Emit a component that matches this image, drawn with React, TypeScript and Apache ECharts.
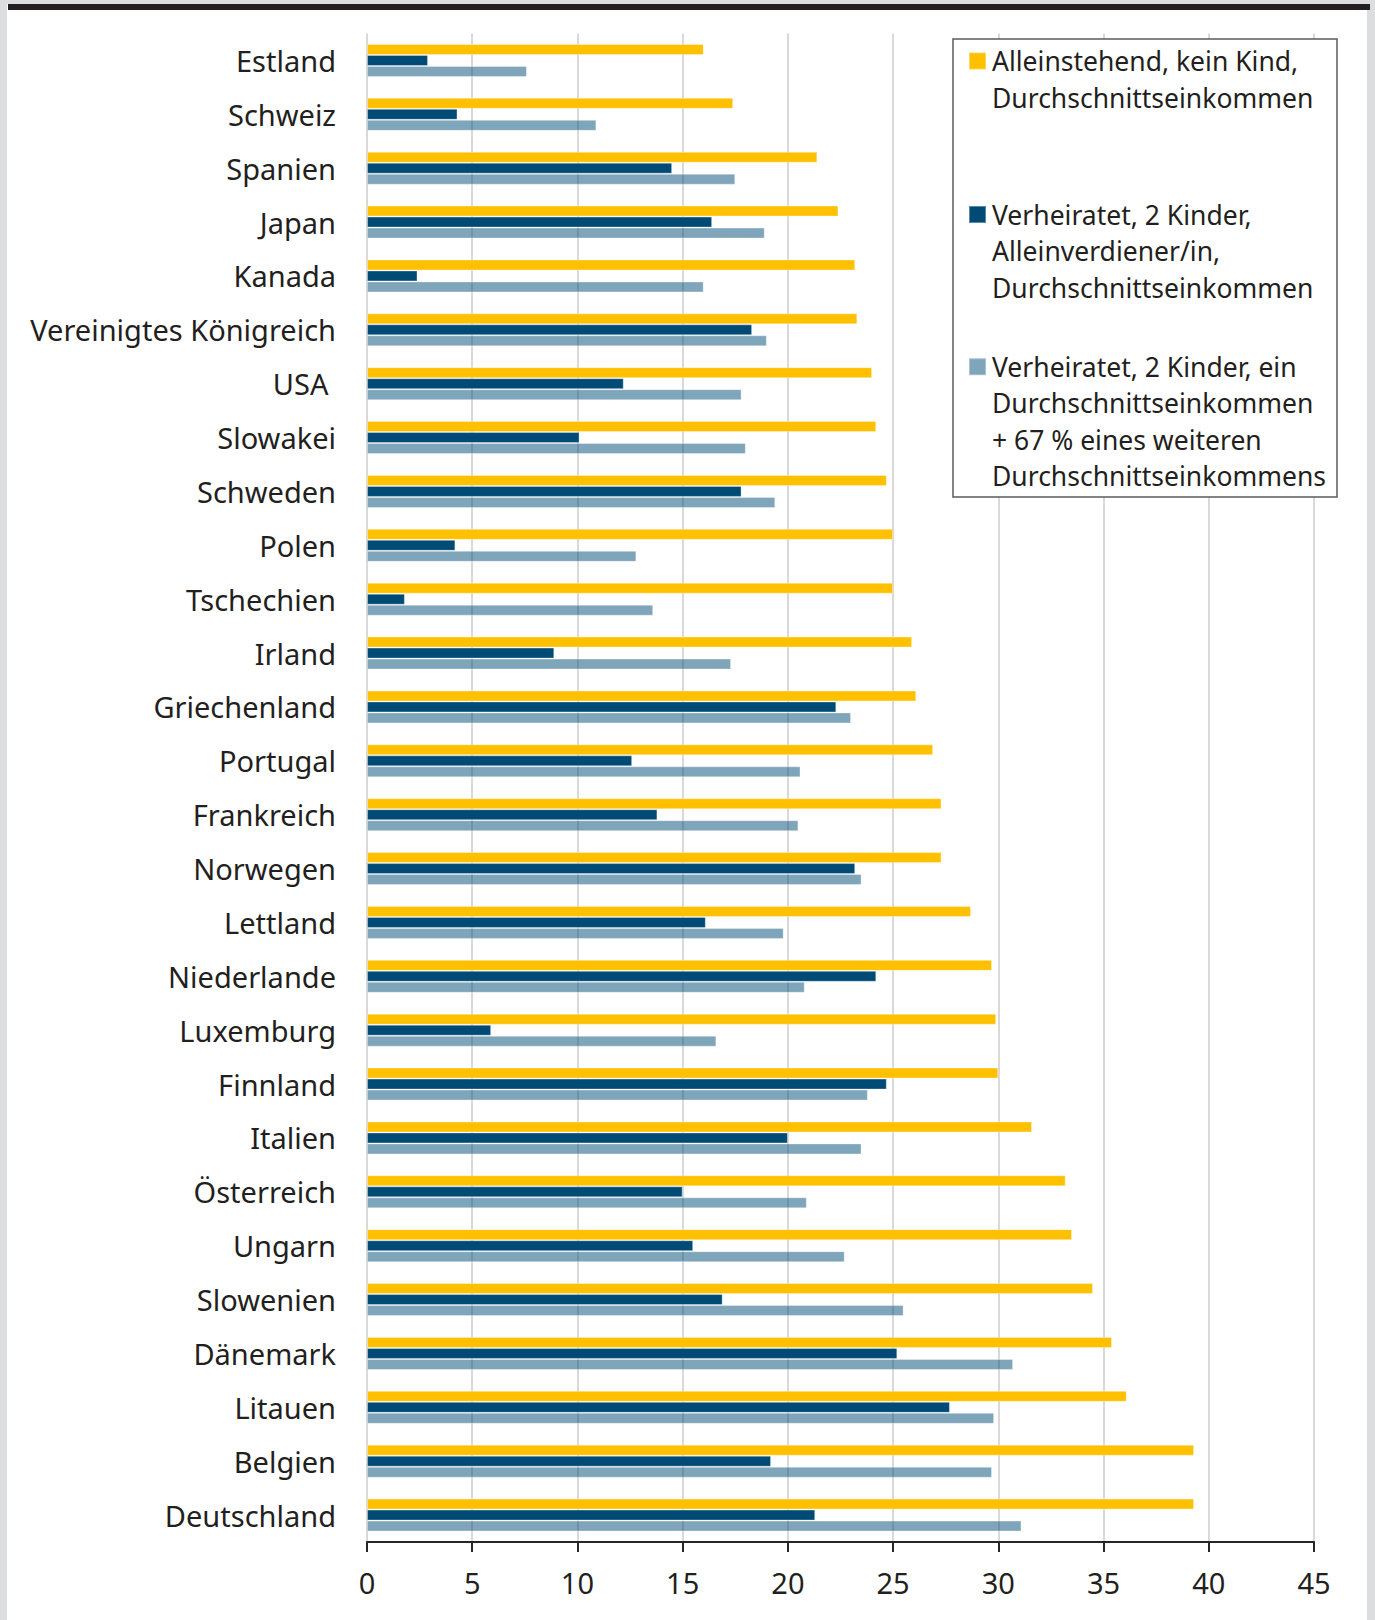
import React, { useEffect, useRef } from "react";
import * as echarts from "echarts";

const countries = [
  "Estland", "Schweiz", "Spanien", "Japan", "Kanada", "Vereinigtes Königreich", "USA ",
  "Slowakei", "Schweden", "Polen", "Tschechien", "Irland", "Griechenland", "Portugal",
  "Frankreich", "Norwegen", "Lettland", "Niederlande", "Luxemburg", "Finnland", "Italien",
  "Österreich", "Ungarn", "Slowenien", "Dänemark", "Litauen", "Belgien", "Deutschland",
];

const singleNoChild = [
  16.0, 17.4, 21.4, 22.4, 23.2, 23.3, 24.0, 24.2, 24.7, 25.0, 25.0, 25.9, 26.1, 26.9,
  27.3, 27.3, 28.7, 29.7, 29.9, 30.0, 31.6, 33.2, 33.5, 34.5, 35.4, 36.1, 39.3, 39.3,
];

const marriedOneEarner = [
  2.9, 4.3, 14.5, 16.4, 2.4, 18.3, 12.2, 10.1, 17.8, 4.2, 1.8, 8.9, 22.3, 12.6,
  13.8, 23.2, 16.1, 24.2, 5.9, 24.7, 20.0, 15.0, 15.5, 16.9, 25.2, 27.7, 19.2, 21.3,
];

const marriedTwoEarners = [
  7.6, 10.9, 17.5, 18.9, 16.0, 19.0, 17.8, 18.0, 19.4, 12.8, 13.6, 17.3, 23.0, 20.6,
  20.5, 23.5, 19.8, 20.8, 16.6, 23.8, 23.5, 20.9, 22.7, 25.5, 30.7, 29.8, 29.7, 31.1,
];

const seriesNames = [
  "Alleinstehend, kein Kind,\nDurchschnittseinkommen",
  "Verheiratet, 2 Kinder,\nAlleinverdiener/in,\nDurchschnittseinkommen",
  "Verheiratet, 2 Kinder, ein\nDurchschnittseinkommen\n+ 67 % eines weiteren\nDurchschnittseinkommens",
];

const xTicks = { min: 0, max: 45, interval: 5 };

const FONT = "Noto Sans";
const TEXT = "#231f20";
const YELLOW = "#ffc000";
const DARK = "#004b76";
const LIGHT = "rgba(0,75,118,0.5)";

export default function App() {
  const ref = useRef<HTMLDivElement>(null);

  useEffect(() => {
    if (!ref.current) return;
    const chart = echarts.init(ref.current, null, { renderer: "svg" });

    const L = 36.5;
    const SQ = 17;
    const W = 18;
    const markerCenters = [61, 214.5, 366.7];
    const legends = seriesNames.map((name, i) => {
      const n = name.split("\n").length;
      const H = n * L;
      const y0 = L / 2 - SQ / 2;
      const y1 = y0 + SQ;
      const icon =
        `path://M0,0 L0.01,0 L0.01,0.01 Z ` +
        `M${W},${H} L${W - 0.01},${H} L${W - 0.01},${H - 0.01} Z ` +
        `M0,${y0} L${SQ},${y0} L${SQ},${y1} L0,${y1} Z`;
      return {
        data: [{ name, icon }],
        left: 968,
        top: markerCenters[i] - L / 2 - 1,
        orient: "vertical",
        padding: 0,
        selectedMode: false,
        itemWidth: W,
        itemHeight: H,
        z: 10,
        textStyle: {
          fontFamily: FONT,
          fontSize: 26.5,
          lineHeight: L,
          color: TEXT,
        },
      };
    });

    const barStyle = (color: string) => ({
      color,
      borderColor: "rgba(255,255,255,0.35)",
      borderWidth: 1,
    });

    chart.setOption({
      animation: false,
      backgroundColor: "#ffffff",
      grid: { left: 367, right: 61, top: 33.5, bottom: 78, containLabel: false },
      legend: legends,
      xAxis: {
        type: "value",
        min: xTicks.min,
        max: xTicks.max,
        interval: xTicks.interval,
        axisLine: { show: true, lineStyle: { color: "#262626", width: 2 } },
        axisTick: { show: true, length: 10, lineStyle: { color: "#262626", width: 2 } },
        axisLabel: { fontFamily: FONT, fontSize: 29, color: TEXT, margin: 26 },
        splitLine: { show: true, lineStyle: { color: "#d9d9d9", width: 2 } },
      },
      yAxis: {
        type: "category",
        data: countries,
        inverse: true,
        axisLine: { show: false },
        axisTick: { show: false },
        axisLabel: { fontFamily: FONT, fontSize: 29, color: TEXT, margin: 31, padding: [0, 0, 6, 0] },
        splitLine: { show: false },
      },
      series: [
        { name: seriesNames[0], type: "bar", data: singleNoChild, barWidth: 11, barGap: "0%", itemStyle: barStyle(YELLOW) },
        { name: seriesNames[1], type: "bar", data: marriedOneEarner, barWidth: 11, barGap: "0%", itemStyle: barStyle(DARK) },
        { name: seriesNames[2], type: "bar", data: marriedTwoEarners, barWidth: 11, barGap: "0%", itemStyle: barStyle(LIGHT) },
      ],
      graphic: [
        { type: "rect", z: 100, shape: { x: 0, y: 0, width: 7, height: 1620 }, style: { fill: "#dcdddf" } },
        { type: "rect", z: 100, shape: { x: 1367, y: 0, width: 8, height: 1620 }, style: { fill: "#dcdddf" } },
        { type: "rect", z: 100, shape: { x: 0, y: 0, width: 1375, height: 4 }, style: { fill: "#dcdddf" } },
        { type: "rect", z: 101, shape: { x: 8, y: 4, width: 1362, height: 6 }, style: { fill: "#231f20" } },
        {
          type: "rect",
          z: 5,
          shape: { x: 953, y: 39, width: 384, height: 458 },
          style: { fill: "#ffffff", stroke: "#5b5b5b", lineWidth: 1.5 },
        },
      ],
    });

    return () => chart.dispose();
  }, []);

  return (
    <div
      ref={ref}
      style={{ position: "absolute", left: 0, top: 0, width: 1375, height: 1620 }}
    />
  );
}
